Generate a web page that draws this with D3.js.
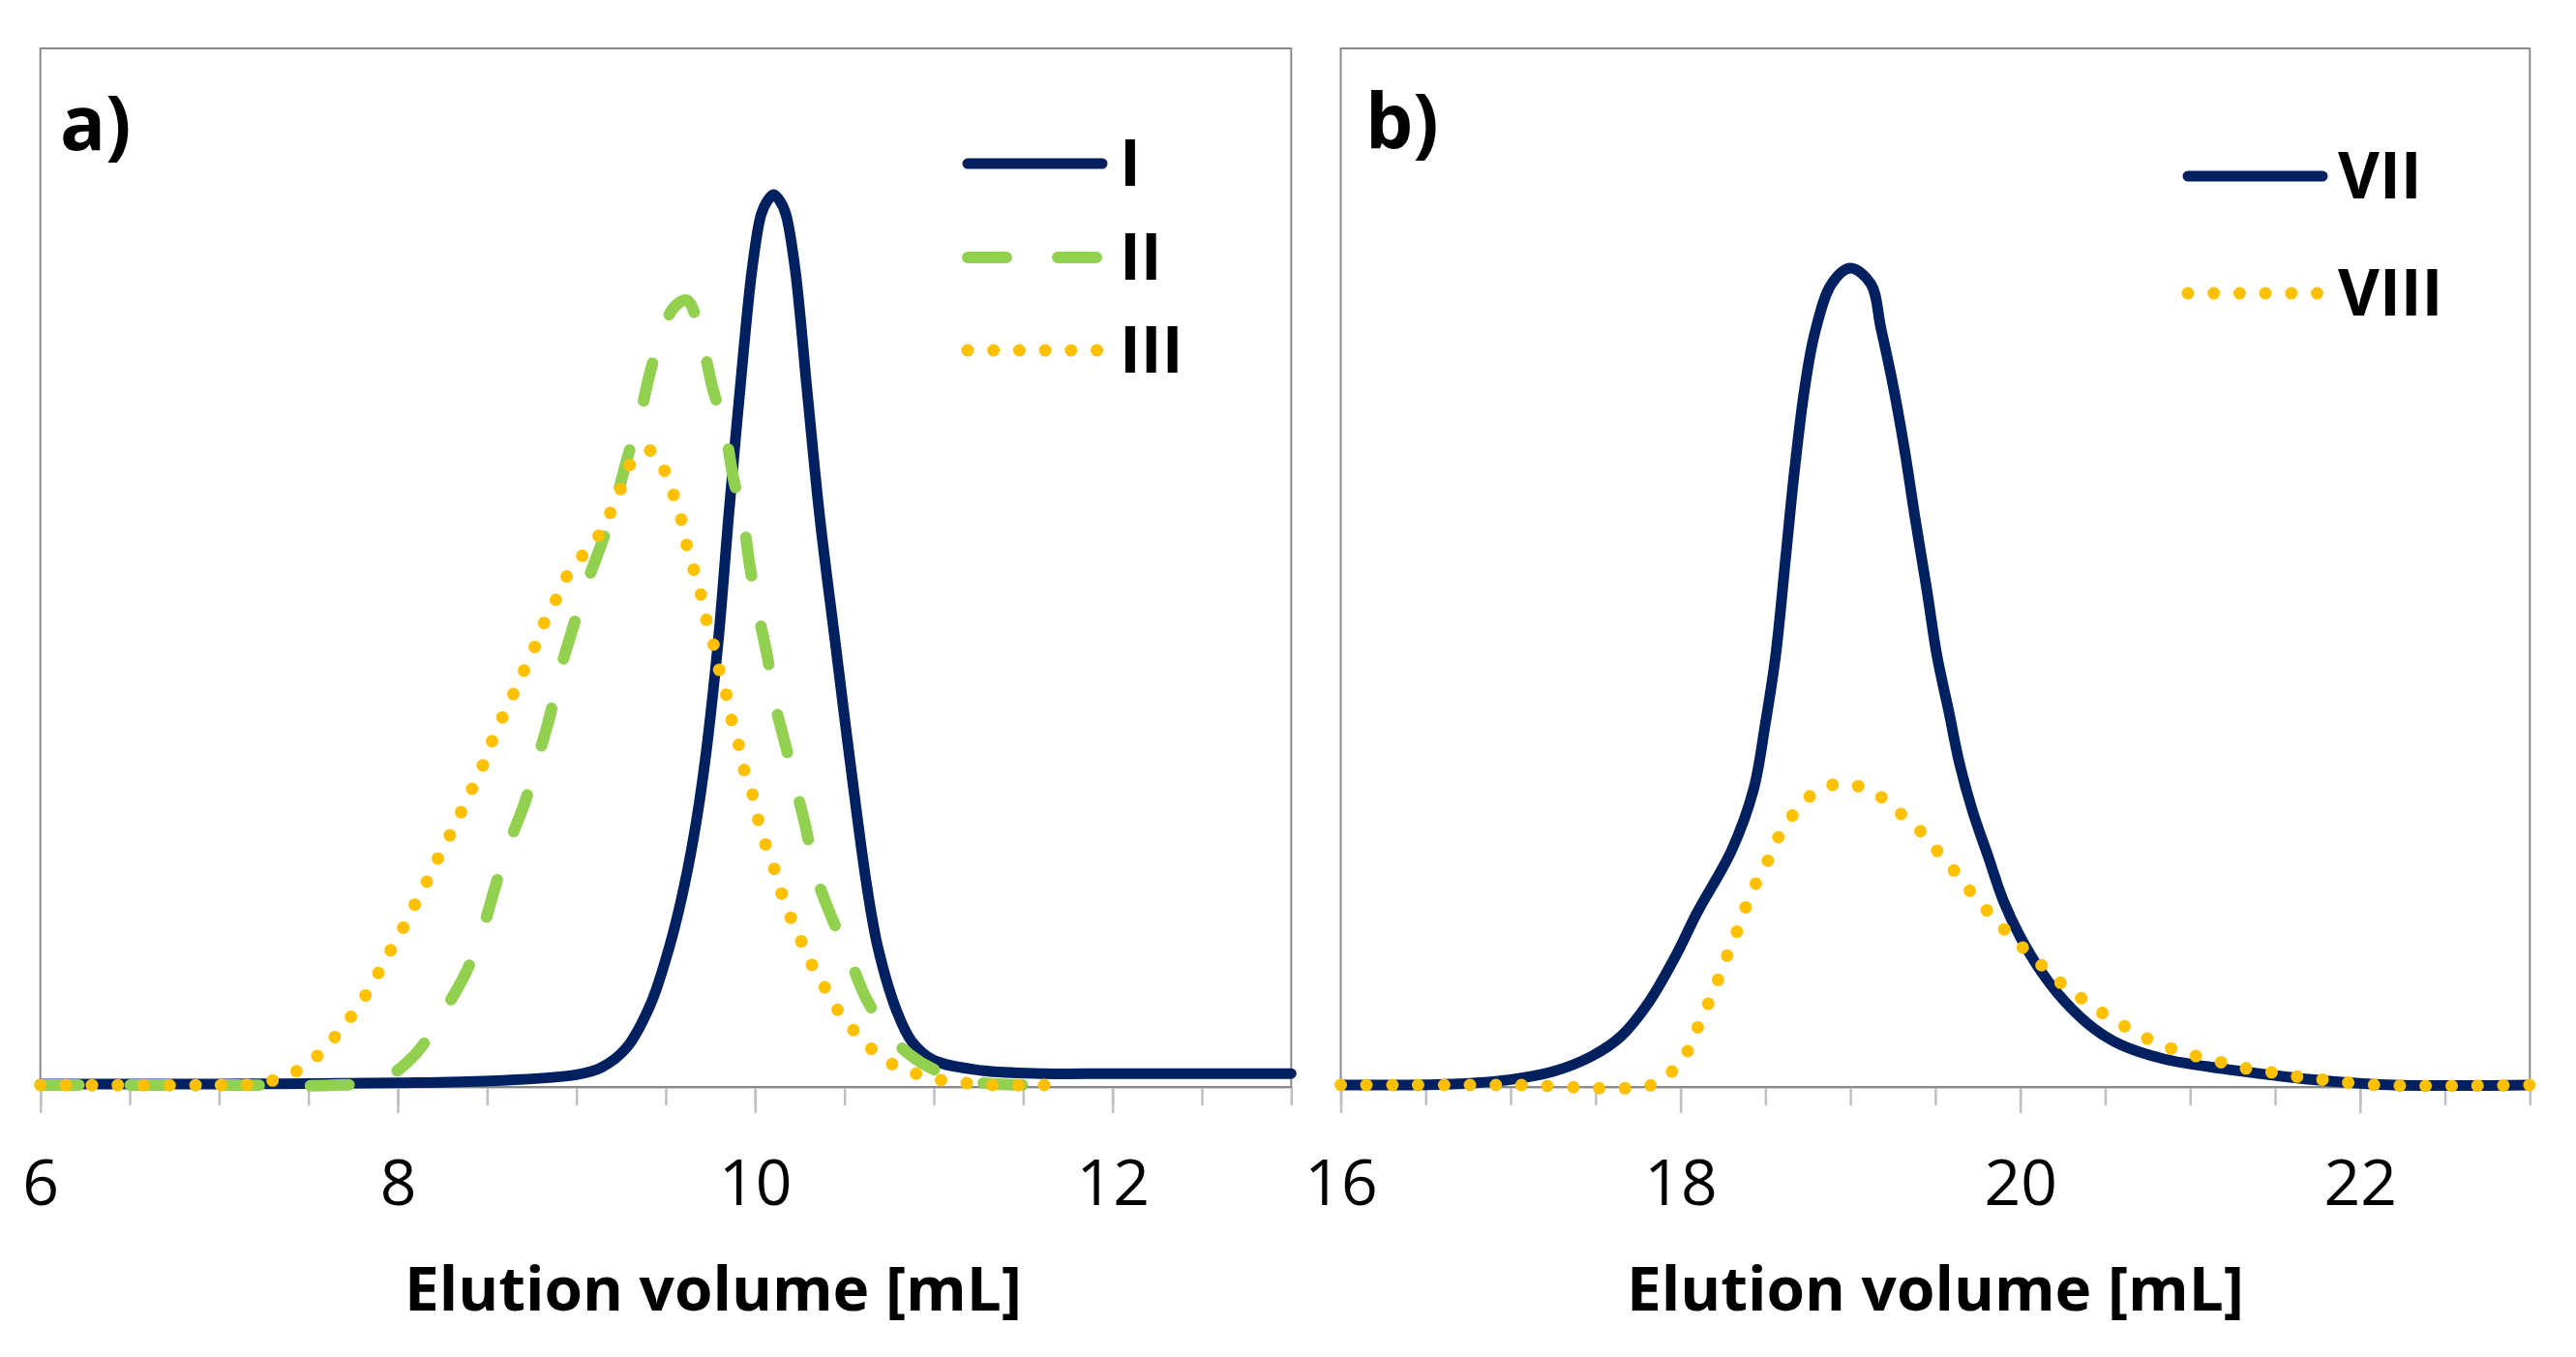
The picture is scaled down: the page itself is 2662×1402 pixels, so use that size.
<!DOCTYPE html>
<html>
<head>
<meta charset="utf-8">
<script src="https://cdn.jsdelivr.net/npm/d3@7"></script>
<style>
  body { margin: 0; background: #fff; }
  svg { display: block; }
</style>
</head>
<body>
<svg id="chart" width="2662" height="1402"></svg>
<script>
// ---- data (elution volume in mL, signal in arbitrary units 0..100) ----
var volI = [6.0, 7.0, 8.0, 8.52, 9.0, 9.14, 9.28, 9.415, 9.518, 9.587, 9.656, 9.718, 9.794, 9.852, 9.914, 9.983, 10.034, 10.069, 10.103, 10.138, 10.172, 10.224, 10.292, 10.361, 10.447, 10.533, 10.626, 10.688, 10.791, 10.877, 10.998, 11.27, 11.62, 12.0, 13.0];
var sigI = [0.1, 0.1, 0.2, 0.4, 1.0, 1.7, 3.6, 7.8, 13.2, 17.9, 23.9, 31.0, 42.9, 54.9, 66.8, 78.7, 84.0, 85.3, 85.9, 85.3, 84.0, 78.7, 66.8, 54.9, 42.9, 31.0, 19.1, 13.2, 7.2, 4.2, 2.4, 1.4, 1.1, 1.1, 1.1];

var volII = [6.0, 7.0, 7.66, 7.90, 8.10, 8.24, 8.38, 8.47, 8.54, 8.61, 8.71, 8.78, 8.85, 8.90, 8.98, 9.05, 9.14, 9.21, 9.29, 9.35, 9.41, 9.48, 9.55, 9.62, 9.69, 9.76, 9.83, 9.88, 9.93, 9.97, 10.02, 10.07, 10.10, 10.17, 10.22, 10.28, 10.34, 10.43, 10.52, 10.62, 10.74, 10.86, 11.00, 11.17, 11.34, 11.62];
var sigII = [0, 0, 0, 0.4, 3.0, 6.6, 10.8, 14.7, 18.8, 22.7, 27.2, 31.3, 35.5, 39.4, 44.1, 48.0, 52.2, 55.7, 60.8, 64.1, 68.6, 72.7, 75.1, 75.7, 72.7, 67.4, 63.2, 58.4, 54.9, 50.1, 45.3, 41.2, 37.6, 32.8, 29.2, 25.1, 20.3, 16.1, 12.6, 8.4, 5.1, 3.0, 1.5, 0.5, 0.1, 0];

var volIII = [6.0, 7.0, 7.2, 7.35, 7.47, 7.58, 7.67, 7.76, 7.84, 7.91, 7.98, 8.05, 8.11, 8.18, 8.24, 8.31, 8.37, 8.43, 8.49, 8.54, 8.60, 8.66, 8.72, 8.78, 8.83, 8.90, 8.96, 9.05, 9.14, 9.20, 9.26, 9.31, 9.42, 9.50, 9.55, 9.59, 9.62, 9.66, 9.70, 9.73, 9.77, 9.80, 9.84, 9.87, 9.91, 9.94, 9.99, 10.02, 10.06, 10.11, 10.15, 10.20, 10.26, 10.32, 10.39, 10.46, 10.55, 10.65, 10.77, 10.90, 11.03, 11.17, 11.33, 11.62];
var sigIII = [0, 0, 0.1, 0.7, 1.7, 3.3, 5.1, 7.1, 9.2, 11.4, 13.6, 15.8, 17.9, 20.2, 22.4, 24.7, 26.9, 29.1, 31.4, 33.7, 36.0, 38.2, 40.5, 42.8, 45.0, 47.3, 49.5, 51.4, 53.4, 55.6, 58.0, 60.1, 61.2, 59.0, 56.6, 54.3, 51.9, 49.5, 47.1, 44.7, 42.3, 40.0, 37.6, 35.1, 32.7, 30.3, 27.8, 25.4, 23.1, 20.7, 18.4, 16.1, 13.8, 11.5, 9.4, 7.3, 5.3, 3.5, 2.0, 1.1, 0.5, 0.2, 0, 0];

var volVII = [16.0, 16.66, 16.99, 17.25, 17.48, 17.65, 17.81, 17.97, 18.10, 18.30, 18.43, 18.50, 18.56, 18.62, 18.67, 18.73, 18.79, 18.89, 19.00, 19.12, 19.18, 19.25, 19.32, 19.38, 19.45, 19.51, 19.58, 19.64, 19.72, 19.81, 19.90, 20.00, 20.13, 20.26, 20.43, 20.59, 20.85, 21.18, 21.51, 21.80, 22.2, 23.0];
var sigVII = [0, 0.1, 0.5, 1.3, 2.8, 4.7, 7.9, 12.4, 16.7, 22.6, 28.5, 34.9, 41.4, 51.0, 59.1, 67.1, 72.5, 77.3, 78.8, 77.3, 73.0, 67.6, 61.2, 54.8, 47.8, 41.4, 36.0, 31.2, 26.4, 22.1, 17.8, 14.3, 10.8, 8.1, 5.5, 3.9, 2.5, 1.6, 0.9, 0.4, 0, 0];

var volVIII = [16.0, 17.0, 17.83, 17.95, 18.04, 18.10, 18.16, 18.22, 18.27, 18.33, 18.38, 18.44, 18.51, 18.57, 18.65, 18.75, 18.88, 19.03, 19.17, 19.28, 19.40, 19.50, 19.60, 19.69, 19.79, 19.89, 20.00, 20.11, 20.22, 20.34, 20.46, 20.59, 20.72, 20.86, 21.01, 21.16, 21.30, 21.45, 21.59, 21.74, 22.1, 23.0];
var sigVIII = [0, 0, 0, 1.3, 3.2, 5.5, 7.7, 10.1, 12.3, 14.7, 17.0, 19.3, 21.5, 23.7, 25.8, 27.7, 28.9, 28.9, 27.9, 26.4, 24.7, 22.8, 20.9, 19.0, 17.1, 15.3, 13.5, 11.8, 10.1, 8.6, 7.2, 5.9, 4.7, 3.7, 2.9, 2.3, 1.7, 1.3, 0.9, 0.6, 0, 0];

var ticksA = [6, 8, 10, 12];
var ticksB = [16, 18, 20, 22];
var axisTitle = "Elution volume [mL]";

// ---- styles ----
var NAVY = "#002060", GREEN = "#92D050", GOLD = "#FFC000";
var styles = {
  solid:  { color: NAVY,  width: 11, dash: null,      cap: "round" },
  dashed: { color: GREEN, width: 12, dash: "40 53",   cap: "round" },
  dotted: { color: GOLD,  width: 13, dash: "0 26.7",  cap: "round" }
};

function pairs(xs, ys) { return xs.map(function (v, i) { return [v, ys[i]]; }); }

var panels = [
  {
    left: 41.7, right: 1334.3, domain: [6, 13], major: ticksA,
    tag: "a)", tagX: 62, tagY: 155, titleX: 737,
    series: [
      { name: "I",   pts: pairs(volI, sigI),     style: "solid" },
      { name: "II",  pts: pairs(volII, sigII),   style: "dashed" },
      { name: "III", pts: pairs(volIII, sigIII), style: "dotted" }
    ],
    legend: { x0: 1000, x1: 1139, tx: 1157, rows: [169, 266, 362] }
  },
  {
    left: 1385.5, right: 2614.3, domain: [16, 23], major: ticksB,
    tag: "b)", tagX: 1411, tagY: 153, titleX: 2000,
    series: [
      { name: "VII",  pts: pairs(volVII, sigVII),   style: "solid" },
      { name: "VIII", pts: pairs(volVIII, sigVIII), style: "dotted" }
    ],
    legend: { x0: 2261, x1: 2400, tx: 2416, rows: [182, 303] }
  }
];

var TOP = 50, AXIS_Y = 1123, ZERO_Y = 1121;
var svg = d3.select("#chart");

panels.forEach(function (p) {
  var x = d3.scaleLinear().domain(p.domain).range([p.left, p.right]);
  var y = d3.scaleLinear().domain([0, 100]).range([ZERO_Y, TOP]);
  var g = svg.append("g");

  // minor ticks every 0.5 mL
  var minor = d3.range(p.domain[0], p.domain[1] + 0.001, 0.5);
  g.append("g")
    .attr("transform", "translate(0," + AXIS_Y + ")")
    .call(d3.axisBottom(x).tickValues(minor).tickSize(19).tickFormat("").tickSizeOuter(0))
    .call(function (a) {
      a.select(".domain").attr("stroke", "#bfbfbf").attr("stroke-width", 2.5);
      a.selectAll(".tick line").attr("stroke", "#bfbfbf").attr("stroke-width", 2.5);
    });

  // major ticks + labels
  g.append("g")
    .attr("transform", "translate(0," + AXIS_Y + ")")
    .call(d3.axisBottom(x).tickValues(p.major).tickSize(27).tickPadding(48).tickFormat(d3.format("d")).tickSizeOuter(0))
    .call(function (a) {
      a.select(".domain").remove();
      a.selectAll(".tick line").attr("stroke", "#bfbfbf").attr("stroke-width", 2.5);
      a.selectAll(".tick text")
        .attr("fill", "#000")
        .style("font-family", "'Open Sans', 'Noto Sans', sans-serif")
        .style("font-size", "66px");
    });

  // plot frame
  g.append("rect")
    .attr("x", p.left).attr("y", TOP)
    .attr("width", p.right - p.left).attr("height", AXIS_Y - TOP)
    .attr("fill", "none").attr("stroke", "#898989").attr("stroke-width", 2);

  // curves
  var line = d3.line()
    .x(function (d) { return x(d[0]); })
    .y(function (d) { return y(d[1]); })
    .curve(d3.curveCatmullRom.alpha(0.5));

  p.series.forEach(function (s) {
    var st = styles[s.style];
    g.append("path")
      .datum(s.pts)
      .attr("d", line)
      .attr("fill", "none")
      .attr("stroke", st.color)
      .attr("stroke-width", st.width)
      .attr("stroke-linecap", st.cap)
      .attr("stroke-linejoin", "round")
      .attr("stroke-dasharray", st.dash);
  });

  // legend
  p.series.forEach(function (s, i) {
    var st = styles[s.style];
    var ly = p.legend.rows[i];
    g.append("line")
      .attr("x1", p.legend.x0).attr("x2", p.legend.x1 + (s.style === "dotted" ? 1 : 0))
      .attr("y1", ly).attr("y2", ly)
      .attr("stroke", st.color)
      .attr("stroke-width", st.width)
      .attr("stroke-linecap", st.cap)
      .attr("stroke-dasharray", st.dash);
    g.append("text")
      .attr("x", p.legend.tx).attr("y", ly + 23)
      .style("font-family", "'Open Sans', 'Noto Sans', sans-serif")
      .style("font-weight", "bold")
      .style("font-size", "66px")
      .text(s.name);
  });

  // panel tag
  g.append("text")
    .attr("x", p.tagX).attr("y", p.tagY)
    .style("font-family", "'Open Sans', 'Noto Sans', sans-serif")
    .style("font-weight", "bold")
    .style("font-size", "78px")
    .text(p.tag);

  // axis title
  g.append("text")
    .attr("x", p.titleX).attr("y", 1354)
    .attr("text-anchor", "middle")
    .attr("textLength", 638)
    .attr("lengthAdjust", "spacingAndGlyphs")
    .style("font-family", "'Open Sans', 'Noto Sans', sans-serif")
    .style("font-weight", "bold")
    .style("font-size", "62px")
    .text(axisTitle);
});
</script>
</body>
</html>
